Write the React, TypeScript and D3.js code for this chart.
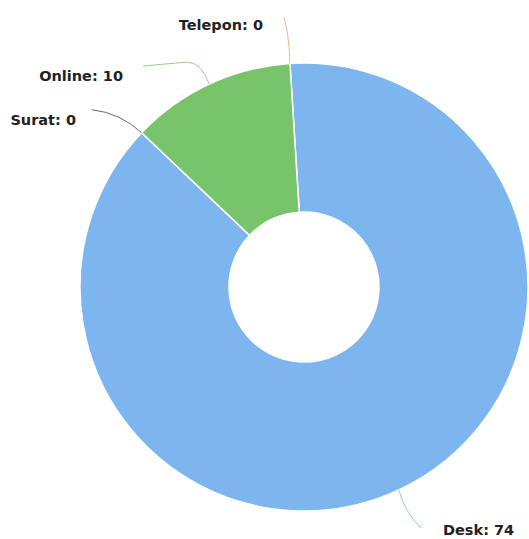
import React from "react";
import * as d3 from "d3";

const categories = ["Desk", "Surat", "Online", "Telepon"];
const values = [74, 0, 10, 0];
const colors = ["#7db5ee", "#434348", "#78c46a", "#f4a07a"];

const W = 529;
const H = 539;
const cx = 304;
const cy = 287;
const outerR = 224;
const innerR = 75;
const startDeg = -3.6;

const labelLayout: Record<string, { tx: number; ty: number; anchor: string; path: (p: [number, number]) => string }> = {
  Telepon: {
    tx: 263, ty: 30, anchor: "end",
    path: ([x, y]) => `M${x},${y} Q${x - 1},${y - 30} ${x - 6},${y - 46}`,
  },
  Online: {
    tx: 123, ty: 81, anchor: "end",
    path: ([x, y]) => `M${x},${y} Q${x - 8},${y - 22} ${x - 22},${y - 22} L${x - 66},${y - 18}`,
  },
  Surat: {
    tx: 76, ty: 125, anchor: "end",
    path: ([x, y]) => `M${x},${y} Q${x - 22},${y - 20} ${x - 50},${y - 23}`,
  },
  Desk: {
    tx: 443, ty: 535, anchor: "start",
    path: ([x, y]) => `M${x},${y} Q${x + 6},${y + 22} ${x + 22},${y + 38}`,
  },
};

export default function App() {
  const data = categories.map((c, i) => ({ name: c, value: values[i], color: colors[i] }));
  const start = (startDeg * Math.PI) / 180;
  const pie = d3
    .pie<{ name: string; value: number; color: string }>()
    .value((d) => d.value)
    .sort(null)
    .startAngle(start)
    .endAngle(start + 2 * Math.PI);
  const arcs = pie(data);
  const arc = d3
    .arc<d3.PieArcDatum<{ name: string; value: number; color: string }>>()
    .innerRadius(innerR)
    .outerRadius(outerR);

  return (
    <svg
      width={W}
      height={H}
      style={{ position: "absolute", left: 0, top: 0, display: "block", background: "#fff" }}
    >
      <g transform={`translate(${cx},${cy})`}>
        {arcs.map((a) =>
          a.value > 0 ? (
            <path key={a.data.name} d={arc(a) || ""} fill={a.data.color} stroke="#ffffff" strokeWidth={1.5} />
          ) : null
        )}
      </g>
      {arcs.map((a) => {
        const mid = (a.startAngle + a.endAngle) / 2;
        const p: [number, number] = [cx + outerR * Math.sin(mid), cy - outerR * Math.cos(mid)];
        const lay = labelLayout[a.data.name];
        return (
          <g key={"l" + a.data.name}>
            <path d={lay.path(p)} fill="none" stroke={a.data.color} strokeWidth={1} opacity={0.8} />
            <text
              x={lay.tx}
              y={lay.ty}
              textAnchor={lay.anchor}
              fontFamily="'DejaVu Sans', sans-serif"
              fontWeight="bold"
              fontSize={14.5}
              fill="#222"
            >
              {a.data.name}: {a.data.value}
            </text>
          </g>
        );
      })}
    </svg>
  );
}
